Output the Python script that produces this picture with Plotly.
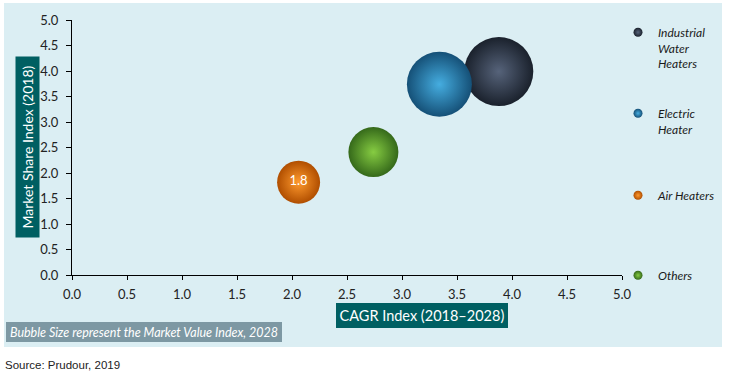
import plotly.graph_objects as go

# ---- data ----
segments = ["Industrial<br>Water<br>Heaters", "Electric<br>Heater", "Air Heaters", "Others"]
cagr_index = [3.88, 3.34, 2.06, 2.74]
market_share_index = [3.99, 3.74, 1.82, 2.41]
market_value_index = [3.45, 3.25, 2.15, 2.50]
bubble_labels = ["", "", "1.8", ""]
x_ticks = [0, 0.5, 1, 1.5, 2, 2.5, 3, 3.5, 4, 4.5, 5]
y_ticks = [0, 0.5, 1, 1.5, 2, 2.5, 3, 3.5, 4, 4.5, 5]

# ---- styles ----
light_colors = ["#56637a", "#45ade0", "#ff9a2e", "#86cc42"]
dark_colors = ["#1a212c", "#155077", "#b04e00", "#35691a"]
draw_order = [0, 1, 3, 2]
legend_ids = ["legend", "legend2", "legend3", "legend4"]
legend_y_px = [26, 107, 189, 269]

W, H = 732, 376
ML, MR, MT, MB = 72, 110, 20, 101
PW, PH = W - ML - MR, H - MT - MB


def px_x(px):
    return (px - ML) / PW


def px_y(py):
    return (H - MB - py) / PH


fig = go.Figure()

for i in draw_order:
    fig.add_trace(go.Scatter(
        x=[cagr_index[i]], y=[market_share_index[i]],
        mode="markers+text",
        text=[bubble_labels[i]],
        textposition="middle center",
        textfont=dict(family="Lato", size=13, color="white"),
        marker=dict(size=[market_value_index[i]], sizemode="diameter", sizeref=0.05,
                    color=dark_colors[i], opacity=1,
                    gradient=dict(type="radial", color=light_colors[i]),
                    line=dict(width=0)),
        showlegend=False, hoverinfo="skip", cliponaxis=False,
    ))

for i, name in enumerate(segments):
    fig.add_trace(go.Scatter(
        x=[None], y=[None], mode="markers", name="<i>" + name + "</i>",
        marker=dict(size=9, color=dark_colors[i], opacity=1,
                    gradient=dict(type="radial", color=light_colors[i]),
                    line=dict(width=0)),
        legend=legend_ids[i], showlegend=True,
    ))

legend_common = dict(
    xanchor="left", yanchor="top", bgcolor="rgba(0,0,0,0)",
    font=dict(family="Lato", size=12, color="#1a1a1a"),
    valign="top", itemwidth=30, tracegroupgap=0,
)
legend_layout = {}
for i, lid in enumerate(legend_ids):
    legend_layout[lid] = dict(legend_common, x=px_x(618), y=px_y(legend_y_px[i] - 8))

fig.update_layout(
    width=W, height=H,
    margin=dict(l=ML, r=MR, t=MT, b=MB, pad=0, autoexpand=False),
    paper_bgcolor="white", plot_bgcolor="rgba(0,0,0,0)",
    xaxis=dict(range=[0, 5], tickvals=x_ticks, ticktext=[f"{v:.1f}" for v in x_ticks],
               showgrid=False, zeroline=False, showline=True, linecolor="black", linewidth=1,
               ticks="outside", ticklen=4, tickcolor="black", ticklabelstandoff=3,
               tickfont=dict(family="Lato", size=13, color="#222")),
    yaxis=dict(range=[0, 5], tickvals=y_ticks, ticktext=[f"{v:.1f}" for v in y_ticks],
               showgrid=False, zeroline=False, showline=True, linecolor="black", linewidth=1,
               ticks="outside", ticklen=5, tickcolor="black", ticklabelstandoff=5,
               tickfont=dict(family="Lato", size=13, color="#222")),
    **legend_layout,
)

# light blue panel
fig.add_shape(type="rect", xref="paper", yref="paper",
              x0=px_x(4), x1=px_x(722), y0=px_y(347), y1=px_y(3),
              fillcolor="#dbeef3", line=dict(width=0), layer="below")

# axis titles as boxed annotations
fig.add_annotation(xref="paper", yref="paper", x=px_x(422), y=px_y(315.5),
                   xanchor="center", yanchor="middle", showarrow=False,
                   text="CAGR Index (2018–2028)", width=172, height=25,
                   bgcolor="#005f62", borderpad=0, borderwidth=0,
                   font=dict(family="Lato", size=14.5, color="white"))
fig.add_annotation(xref="paper", yref="paper", x=px_x(27), y=px_y(147.5),
                   xanchor="center", yanchor="middle", showarrow=False,
                   text="Market Share Index (2018)", textangle=-90, width=181, height=24,
                   bgcolor="#005f62", borderpad=0, borderwidth=0,
                   font=dict(family="Lato", size=14, color="white"))
fig.add_annotation(xref="paper", yref="paper", x=px_x(144), y=px_y(332),
                   xanchor="center", yanchor="middle", showarrow=False,
                   text="<i>Bubble Size represent the Market Value Index, 2028</i>",
                   width=276, height=20,
                   bgcolor="#7d98a3", borderpad=0, borderwidth=0,
                   font=dict(family="Lato", size=12.5, color="white"))
fig.add_annotation(xref="paper", yref="paper", x=px_x(3), y=px_y(365),
                   xanchor="left", yanchor="middle", showarrow=False,
                   text="Source: Prudour, 2019",
                   font=dict(family="Liberation Sans", size=11.5, color="#222"))

fig.write_html("out.html", config={"displayModeBar": False},
               post_script="document.body.style.margin='0';")
